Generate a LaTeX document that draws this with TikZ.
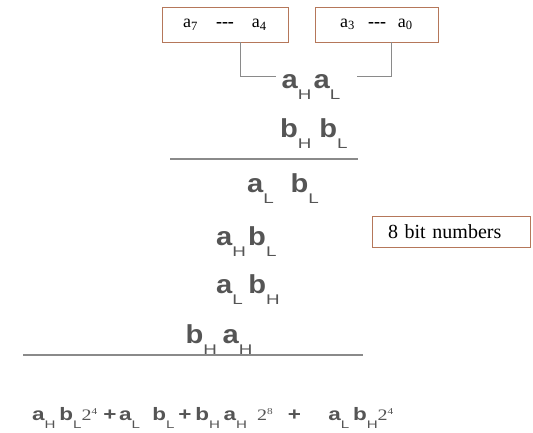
\documentclass[tikz,border=0pt]{standalone}
\usepackage{fontspec}
\setmainfont{Liberation Serif}
\setsansfont{Liberation Sans}
\usetikzlibrary{calc}
\definecolor{boxedge}{HTML}{B5775A}
\definecolor{inkgray}{HTML}{555555}
\definecolor{rulegray}{HTML}{8A8A8A}
% stretched sans, as in the slide
\newcommand{\wide}[1]{\scalebox{1.12}[1]{#1}}
\newcommand{\bigsub}[1]{\raisebox{-11pt}{\scalebox{1.2}[1]{\mdseries\fontsize{14}{14}\selectfont #1}}}
\newcommand{\smallsub}[1]{\raisebox{-8pt}{\scalebox{1.1}[1]{\mdseries\fontsize{11}{11}\selectfont #1}}}
\newcommand{\pw}[1]{{\rmfamily\mdseries\fontsize{16}{16}\selectfont 2\raisebox{6pt}{\fontsize{9}{9}\selectfont #1}}}
\newcommand{\dashes}{\textbf{-{}-{}-}}

\begin{document}
\begin{tikzpicture}[x=1pt,y=-1pt,
    bitbox/.style={draw=boxedge,thick,inner sep=0pt,font=\fontsize{18}{18}\selectfont},
    bigterm/.style={font=\sffamily\bfseries\fontsize{26}{26}\selectfont,text=inkgray,inner sep=0pt,anchor=base west},
    sumterm/.style={font=\sffamily\bfseries\fontsize{18}{18}\selectfont,text=inkgray,inner sep=0pt,anchor=base west},
    rule/.style={rulegray,line width=1.2pt}]
  \useasboundingbox (0,0) rectangle (533,433);
  % the two nibbles
  \node[bitbox,minimum width=126,minimum height=35] (ahi) at (225,24.5)
    {a\textsubscript{7}\hspace{18pt}\dashes\hspace{18pt}a\textsubscript{4}};
  \node[bitbox,minimum width=123,minimum height=35] (alo) at (376.5,24.5)
    {a\textsubscript{3}\hspace{13pt}\dashes\hspace{12pt}a\textsubscript{0}};
  \node[bigterm] (aword) at (281.5,89) {\wide{a\bigsub{H}\hspace{2pt}a\bigsub{L}}};
  \draw[rulegray,thick] ($(ahi.south)+(15,0)$) |- ($(aword.base west)+(-5.5,-13)$);
  \draw[rulegray,thick] ($(alo.south)+(15,0)$) |- ($(aword.base east)+(16,-13)$);
  \node[bigterm] (bword) at (280,138) {\wide{b\bigsub{H}\hspace{7pt}b\bigsub{L}}};
  \draw[rule] (170,159) -- (358,159);
  % partial products
  \node[bigterm] (albl) at (247,193) {\wide{a\bigsub{L}\hspace{15pt}b\bigsub{L}}};
  \node[bigterm] (ahbl) at (216,245) {\wide{a\bigsub{H}\hspace{2pt}b\bigsub{L}}};
  \node[bigterm] (albh) at (216,293) {\wide{a\bigsub{L}\hspace{5pt}b\bigsub{H}}};
  \node[bigterm] (bhah) at (185.5,343) {\wide{b\bigsub{H}\hspace{5pt}a\bigsub{H}}};
  \draw[rule] (23,355) -- (363,355);
  \node[draw=boxedge,thick,minimum height=31,text width=126,inner xsep=16,inner ysep=0,align=left,
    font=\fontsize{20}{20}\selectfont] (note) at (451,231.5) {8 bit numbers};
  % result
  \node[sumterm] (total) at (32,420) {\scalebox{1.25}[1]{%
    a\smallsub{H}\hspace{3pt}b\smallsub{L}\pw{4}\hspace{5pt}+\hspace{2pt}a\smallsub{L}\hspace{10pt}b\smallsub{L}\hspace{3pt}+\hspace{3pt}b\smallsub{H}\hspace{3pt}a\smallsub{H}\hspace{8pt}\pw{8}\hspace{12pt}+\hspace{22pt}a\smallsub{L}\hspace{3pt}b\smallsub{H}\pw{4}}};
\end{tikzpicture}
\end{document}
